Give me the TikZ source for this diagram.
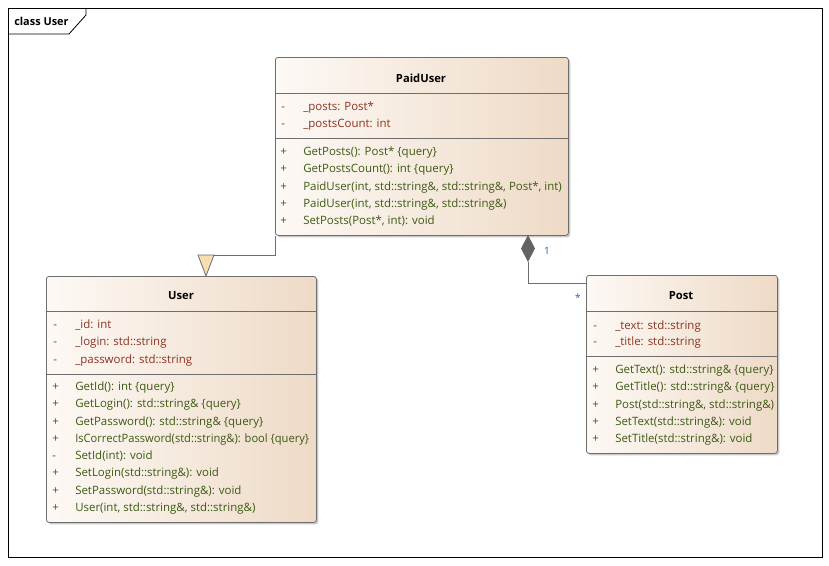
\documentclass[tikz,border=0pt]{standalone}
\usepackage{fontspec}
\setmainfont{Open Sans}
\usetikzlibrary{shadows}
\definecolor{attrcol}{HTML}{8B3322}
\definecolor{opcol}{HTML}{3C5A14}
\definecolor{boxleft}{HTML}{FDF9F5}
\definecolor{boxright}{HTML}{EEDAC6}
\definecolor{edgecol}{HTML}{6E6E6E}
\definecolor{genfill}{HTML}{F8DDB0}
\definecolor{multcol}{HTML}{1F5FAF}
\tikzset{
  classbox/.style={draw=edgecol, line width=0.6pt, rounded corners=2pt,
    left color=boxleft, right color=boxright, shading angle=90,
    anchor=north west, inner sep=0pt,
    drop shadow={shadow xshift=1.4pt, shadow yshift=-1.4pt, opacity=0.35, fill=black!60}},
  ctitle/.style={font=\fontsize{8.4}{10}\selectfont\bfseries, inner sep=0pt},
  vis/.style={anchor=west, inner sep=0pt, font=\fontsize{8.6}{10}\selectfont, text height=6.4pt, text depth=1.9pt},
  attr/.style={vis, text=attrcol},
  oper/.style={vis, text=opcol},
  sep/.style={draw=edgecol, line width=0.6pt},
  link/.style={draw=edgecol, line width=0.7pt},
  mult/.style={font=\fontsize{7.5}{9}\selectfont, inner sep=0pt, text=multcol}
}
\begin{document}
\begin{tikzpicture}[x=0.75pt, y=-0.75pt]
  \useasboundingbox (0,0) rectangle (829,565);
  % diagram frame with its name tab
  \draw[black, line width=0.6pt] (8,8) rectangle (822,557);
  \draw[black, line width=0.6pt] (8,34) -- (69,34) -- (86,15) -- (86,8);
  \node[font=\fontsize{8.2}{10}\selectfont\bfseries, anchor=west, inner sep=0pt] (frametitle) at (14,21) {class User};

  % ---- PaidUser ----
  \node[classbox, minimum width=293*0.75pt, minimum height=178*0.75pt] (paid) at (275,57) {};
  \draw[sep] (275,93) -- (568,93);
  \draw[sep] (275,138) -- (568,138);
  \node[ctitle] (paidname) at (421,78) {PaidUser};
  \foreach \y/\t in {107/\_posts: Post*, 124/\_postsCount: int} {
    \node[attr] at (281,\y) {-};
    \node[attr] at (303,\y) {\t};
  }
  \foreach \y/\t in {152/GetPosts(): Post* \{query\},
                     169/GetPostsCount(): int \{query\},
                     187/{PaidUser(int, std::string\&, std::string\&, Post*, int)},
                     204/{PaidUser(int, std::string\&, std::string\&)},
                     221/{SetPosts(Post*, int): void}} {
    \node[oper] at (280,\y) {+};
    \node[oper] at (303,\y) {\t};
  }

  % ---- User ----
  \node[classbox, minimum width=270*0.75pt, minimum height=246*0.75pt] (user) at (46,276) {};
  \draw[sep] (46,311) -- (316,311);
  \draw[sep] (46,374) -- (316,374);
  \node[ctitle] (username) at (181,296) {User};
  \foreach \y/\t in {325/\_id: int, 342/\_login: std::string, 360/\_password: std::string} {
    \node[attr] at (53,\y) {-};
    \node[attr] at (75,\y) {\t};
  }
  \foreach \y/\s/\t in {387/+/GetId(): int \{query\},
                        404/+/GetLogin(): std::string\& \{query\},
                        422/+/GetPassword(): std::string\& \{query\},
                        456/-/SetId(int): void,
                        473/+/SetLogin(std::string\&): void,
                        491/+/SetPassword(std::string\&): void,
                        508/+/{User(int, std::string\&, std::string\&)}} {
    \node[oper] at (52,\y) {\s};
    \node[oper] at (75,\y) {\t};
  }
  % the longest operation is set a little condensed to stay inside the box
  \node[oper] at (52,439) {+};
  \node[oper] at (75,439) {\scalebox{0.97}[1]{IsCorrectPassword(std::string\&): bool \{query\}}};

  % ---- Post ----
  \node[classbox, minimum width=191*0.75pt, minimum height=178*0.75pt] (post) at (586,275) {};
  \draw[sep] (586,311) -- (777,311);
  \draw[sep] (586,356) -- (777,356);
  \node[ctitle] (postname) at (681,296) {Post};
  \foreach \y/\t in {326/\_text: std::string, 342/\_title: std::string} {
    \node[attr] at (593,\y) {-};
    \node[attr] at (615,\y) {\t};
  }
  \foreach \y/\t in {370/GetText(): std::string\& \{query\},
                     387/GetTitle(): std::string\& \{query\},
                     405/{Post(std::string\&, std::string\&)},
                     422/SetText(std::string\&): void,
                     439/SetTitle(std::string\&): void} {
    \node[oper] at (592,\y) {+};
    \node[oper] at (615,\y) {\t};
  }

  % ---- generalization PaidUser -> User ----
  \coordinate (genbend) at (275,255);
  \coordinate (genbase) at (206,255);
  \draw[link] (paid.south west) -- (genbend) -- (214,255);
  \draw[link, fill=genfill, line width=0.6pt] (198,255) -- (214,255) -- (user.north west -| genbase) -- cycle;

  % ---- composition PaidUser <>-- Post ----
  \coordinate (diamtop) at (528,235);
  \coordinate (comptip) at (528,262);
  \coordinate (compbend) at (528,283);
  \draw[link] (comptip) -- (compbend) -- (compbend -| post.west);
  \fill[edgecol!90!black] (diamtop) -- (535,248.5) -- (comptip) -- (521,248.5) -- cycle;
  \node[mult] (multone) at (547,251) {1};
  \node[mult] (multmany) at (578,298) {*};
\end{tikzpicture}
\end{document}
